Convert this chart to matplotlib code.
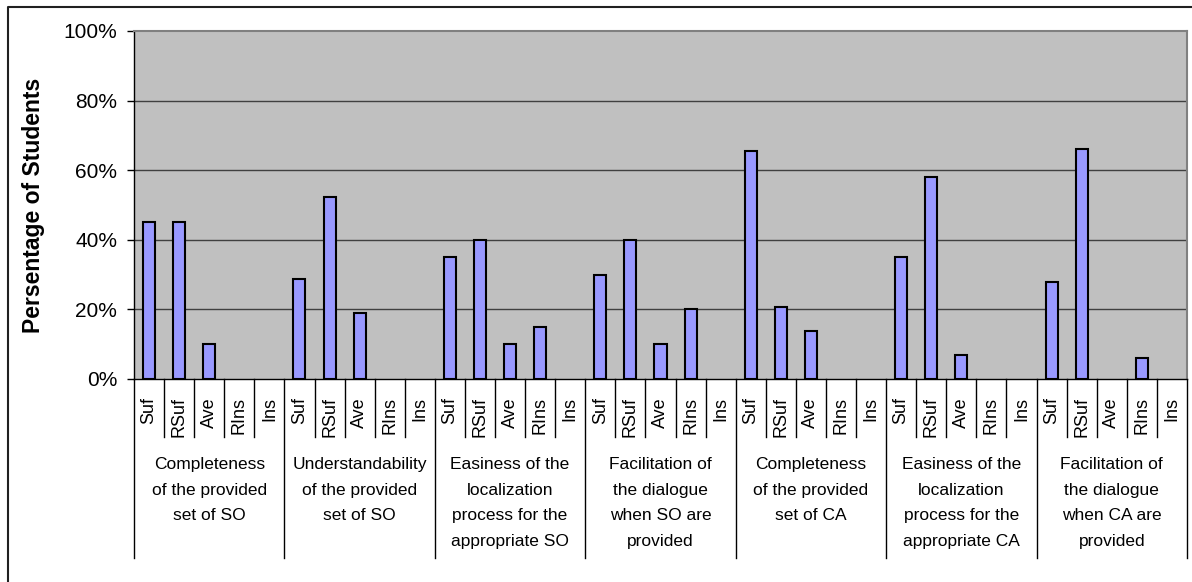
import numpy as np
import matplotlib.pyplot as plt
from matplotlib.lines import Line2D

plt.rcParams['font.family'] = ['Liberation Sans', 'DejaVu Sans']

levels = ["Suf", "RSuf", "Ave", "RIns", "Ins"]
groups = [
    "Completeness\nof the provided\nset of SO",
    "Understandability\nof the provided\nset of SO",
    "Easiness of the\nlocalization\nprocess for the\nappropriate SO",
    "Facilitation of\nthe dialogue\nwhen SO are\nprovided",
    "Completeness\nof the provided\nset of CA",
    "Easiness of the\nlocalization\nprocess for the\nappropriate CA",
    "Facilitation of\nthe dialogue\nwhen CA are\nprovided",
]
# percentage of students per answer level, one row per question
so_complete = [45, 45, 10, 0, 0]
so_understand = [28.6, 52.4, 19.0, 0, 0]
so_localize = [35, 40, 10, 15, 0]
so_dialogue = [30, 40, 10, 20, 0]
ca_complete = [65.5, 20.7, 13.8, 0, 0]
ca_localize = [35, 58, 7, 0, 0]
ca_dialogue = [28, 66, 0, 6, 0]

values = np.array(so_complete + so_understand + so_localize + so_dialogue
                  + ca_complete + ca_localize + ca_dialogue)
n = len(values)
x = np.arange(n)

W, H = 1192, 582
fig = plt.figure(figsize=(W / 100, H / 100), dpi=100)
left, right, top, bottom = 134, 1187, 31, 379
ax = fig.add_axes([left / W, 1 - bottom / H, (right - left) / W, (bottom - top) / H])

ax.set_facecolor('#C0C0C0')
# empty answers get no outline either
edge_w = np.where(values > 0, 1.5, 0)
ax.bar(x, values, width=0.4, color='#9999FF', edgecolor='black', linewidth=edge_w, zorder=3)

ax.set_xlim(-0.5, n - 0.5)
ax.set_ylim(0, 100)
ax.set_yticks([0, 20, 40, 60, 80, 100])
ax.set_yticklabels(['0%', '20%', '40%', '60%', '80%', '100%'], fontsize=15)
ax.tick_params(axis='y', length=5, width=1, pad=7, direction='out')
ax.set_xticks([])
for yv in [20, 40, 60, 80]:
    ax.axhline(yv, color='#404040', linewidth=1, zorder=1)

ax.spines['left'].set_color('black')
ax.spines['bottom'].set_color('black')
ax.spines['top'].set_color('#808080')
ax.spines['right'].set_color('#808080')
for s in ax.spines.values():
    s.set_linewidth(1.5)
ax.spines['left'].set_linewidth(1)
ax.spines['bottom'].set_linewidth(1)

# two-level category axis drawn below the plot
px = 1.0 / (bottom - top)  # one pixel in axes fraction
trans = ax.get_xaxis_transform()
for k in range(n + 1):
    y_end = -(558 - bottom) * px if k % 5 == 0 else -(437 - bottom) * px
    ax.add_line(Line2D([k - 0.5, k - 0.5], [0, y_end], transform=trans,
                       color='black', linewidth=1, clip_on=False))
for k in range(n):
    ax.text(x[k], -(397 - bottom) * px, levels[k % 5], transform=trans,
            rotation=90, ha='center', va='top', fontsize=13)
for g, name in enumerate(groups):
    ax.text(5 * g + 2, -(457 - bottom) * px, name, transform=trans,
            ha='center', va='top', fontsize=12.5, linespacing=1.88)

fig.text(34 / W, 1 - 205 / H, 'Persentage of Students', rotation=90,
         ha='center', va='center', fontsize=16.5, fontweight='bold')

# chart area frame
fig.add_artist(Line2D([8 / W, 8 / W, 1], [0, 1 - 7 / H, 1 - 7 / H],
                      transform=fig.transFigure, color='#202020', linewidth=1.5))

fig.savefig('out.png', dpi=100)
